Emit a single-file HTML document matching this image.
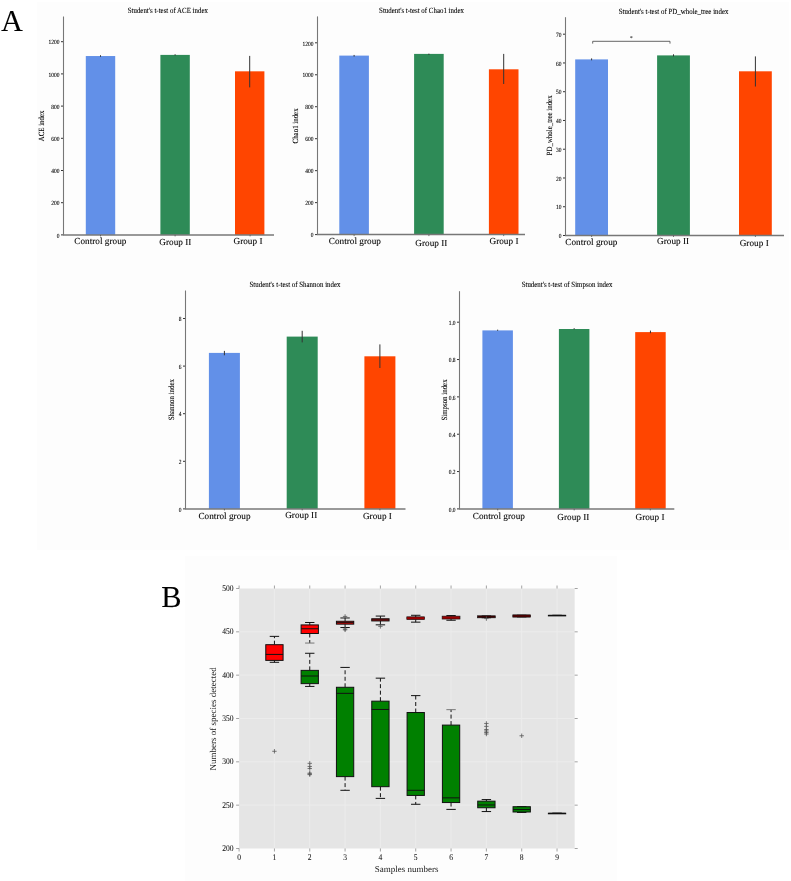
<!DOCTYPE html>
<html><head><meta charset="utf-8"><style>
html,body{margin:0;padding:0;background:#fff;}
svg{display:block;will-change:transform;}
text{stroke-width:0.8px;text-rendering:geometricPrecision;}
text{font-family:"Liberation Serif", serif;}
</style></head><body>
<svg width="791" height="881" viewBox="0 0 791 881">
<rect width="791" height="881" fill="#fff"/>
<rect x="37" y="2" width="752" height="548" fill="#fdfdfd"/>
<text transform="translate(167.80 13.40) scale(0.100 0.1150)" font-size="69.0" text-anchor="middle" fill="#000" stroke="#000">Student's t-test of ACE index</text>
<text transform="translate(44.00 125.90) rotate(-90) scale(0.100 0.1150)" font-size="69.0" text-anchor="middle" fill="#000" stroke="#000">ACE index</text>
<line x1="61.0" y1="234.90" x2="63.5" y2="234.90" stroke="#333" stroke-width="1"/>
<text transform="translate(59.60 237.60) scale(0.100 0.1150)" font-size="55.0" text-anchor="end" fill="#000" stroke="#000">0</text>
<line x1="61.0" y1="202.70" x2="63.5" y2="202.70" stroke="#333" stroke-width="1"/>
<text transform="translate(59.60 205.40) scale(0.100 0.1150)" font-size="55.0" text-anchor="end" fill="#000" stroke="#000">200</text>
<line x1="61.0" y1="170.50" x2="63.5" y2="170.50" stroke="#333" stroke-width="1"/>
<text transform="translate(59.60 173.20) scale(0.100 0.1150)" font-size="55.0" text-anchor="end" fill="#000" stroke="#000">400</text>
<line x1="61.0" y1="138.30" x2="63.5" y2="138.30" stroke="#333" stroke-width="1"/>
<text transform="translate(59.60 141.00) scale(0.100 0.1150)" font-size="55.0" text-anchor="end" fill="#000" stroke="#000">600</text>
<line x1="61.0" y1="106.10" x2="63.5" y2="106.10" stroke="#333" stroke-width="1"/>
<text transform="translate(59.60 108.80) scale(0.100 0.1150)" font-size="55.0" text-anchor="end" fill="#000" stroke="#000">800</text>
<line x1="61.0" y1="73.90" x2="63.5" y2="73.90" stroke="#333" stroke-width="1"/>
<text transform="translate(59.60 76.60) scale(0.100 0.1150)" font-size="55.0" text-anchor="end" fill="#000" stroke="#000">1000</text>
<line x1="61.0" y1="41.70" x2="63.5" y2="41.70" stroke="#333" stroke-width="1"/>
<text transform="translate(59.60 44.40) scale(0.100 0.1150)" font-size="55.0" text-anchor="end" fill="#000" stroke="#000">1200</text>
<rect x="85.8" y="56.03" width="29.4" height="178.87" fill="#6290E8"/>
<line x1="100.50" y1="56.83" x2="100.50" y2="55.22" stroke="#333" stroke-width="1"/>
<rect x="160.4" y="54.90" width="29.4" height="180.00" fill="#2E8B57"/>
<line x1="175.10" y1="55.55" x2="175.10" y2="54.26" stroke="#333" stroke-width="1"/>
<rect x="235.0" y="71.32" width="29.4" height="163.58" fill="#FF4500"/>
<line x1="249.70" y1="87.40" x2="249.70" y2="55.90" stroke="#333" stroke-width="1"/>
<line x1="63.5" y1="16.5" x2="63.5" y2="234.9" stroke="#777" stroke-width="1.1"/>
<line x1="63.0" y1="234.9" x2="274" y2="234.9" stroke="#777" stroke-width="1.5"/>
<line x1="100.5" y1="234.9" x2="100.5" y2="236.4" stroke="#555" stroke-width="0.8"/>
<line x1="175.1" y1="234.9" x2="175.1" y2="236.4" stroke="#555" stroke-width="0.8"/>
<line x1="250.1" y1="234.9" x2="250.1" y2="236.4" stroke="#555" stroke-width="0.8"/>
<text transform="translate(100.30 244.00) scale(0.100 0.1000)" font-size="92.5" text-anchor="middle" fill="#000" stroke="#000">Control group</text>
<text transform="translate(175.30 245.20) scale(0.100 0.1000)" font-size="92.5" text-anchor="middle" fill="#000" stroke="#000">Group II</text>
<text transform="translate(248.00 243.50) scale(0.100 0.1000)" font-size="92.5" text-anchor="middle" fill="#000" stroke="#000">Group I</text>
<text transform="translate(421.50 13.40) scale(0.100 0.1150)" font-size="69.0" text-anchor="middle" fill="#000" stroke="#000">Student's t-test of Chao1 index</text>
<text transform="translate(297.50 125.90) rotate(-90) scale(0.100 0.1150)" font-size="69.0" text-anchor="middle" fill="#000" stroke="#000">Chao1 index</text>
<line x1="315.0" y1="234.60" x2="317.5" y2="234.60" stroke="#333" stroke-width="1"/>
<text transform="translate(313.60 237.30) scale(0.100 0.1150)" font-size="55.0" text-anchor="end" fill="#000" stroke="#000">0</text>
<line x1="315.0" y1="202.63" x2="317.5" y2="202.63" stroke="#333" stroke-width="1"/>
<text transform="translate(313.60 205.33) scale(0.100 0.1150)" font-size="55.0" text-anchor="end" fill="#000" stroke="#000">200</text>
<line x1="315.0" y1="170.67" x2="317.5" y2="170.67" stroke="#333" stroke-width="1"/>
<text transform="translate(313.60 173.37) scale(0.100 0.1150)" font-size="55.0" text-anchor="end" fill="#000" stroke="#000">400</text>
<line x1="315.0" y1="138.70" x2="317.5" y2="138.70" stroke="#333" stroke-width="1"/>
<text transform="translate(313.60 141.40) scale(0.100 0.1150)" font-size="55.0" text-anchor="end" fill="#000" stroke="#000">600</text>
<line x1="315.0" y1="106.73" x2="317.5" y2="106.73" stroke="#333" stroke-width="1"/>
<text transform="translate(313.60 109.43) scale(0.100 0.1150)" font-size="55.0" text-anchor="end" fill="#000" stroke="#000">800</text>
<line x1="315.0" y1="74.77" x2="317.5" y2="74.77" stroke="#333" stroke-width="1"/>
<text transform="translate(313.60 77.47) scale(0.100 0.1150)" font-size="55.0" text-anchor="end" fill="#000" stroke="#000">1000</text>
<line x1="315.0" y1="42.80" x2="317.5" y2="42.80" stroke="#333" stroke-width="1"/>
<text transform="translate(313.60 45.50) scale(0.100 0.1150)" font-size="55.0" text-anchor="end" fill="#000" stroke="#000">1200</text>
<rect x="339.3" y="55.60" width="29.6" height="179.00" fill="#6290E8"/>
<line x1="354.10" y1="56.55" x2="354.10" y2="54.95" stroke="#333" stroke-width="1"/>
<rect x="414.1" y="53.90" width="29.6" height="180.70" fill="#2E8B57"/>
<line x1="428.90" y1="54.95" x2="428.90" y2="53.67" stroke="#333" stroke-width="1"/>
<rect x="488.9" y="69.30" width="29.6" height="165.30" fill="#FF4500"/>
<line x1="503.70" y1="84.00" x2="503.70" y2="53.90" stroke="#333" stroke-width="1"/>
<line x1="317.5" y1="16.4" x2="317.5" y2="234.6" stroke="#777" stroke-width="1.1"/>
<line x1="317.0" y1="234.6" x2="525" y2="234.6" stroke="#777" stroke-width="1.5"/>
<line x1="354.1" y1="234.6" x2="354.1" y2="236.1" stroke="#555" stroke-width="0.8"/>
<line x1="428.9" y1="234.6" x2="428.9" y2="236.1" stroke="#555" stroke-width="0.8"/>
<line x1="503.7" y1="234.6" x2="503.7" y2="236.1" stroke="#555" stroke-width="0.8"/>
<text transform="translate(354.80 244.00) scale(0.100 0.1000)" font-size="92.5" text-anchor="middle" fill="#000" stroke="#000">Control group</text>
<text transform="translate(431.30 245.50) scale(0.100 0.1000)" font-size="92.5" text-anchor="middle" fill="#000" stroke="#000">Group II</text>
<text transform="translate(504.00 243.50) scale(0.100 0.1000)" font-size="92.5" text-anchor="middle" fill="#000" stroke="#000">Group I</text>
<text transform="translate(673.60 14.10) scale(0.100 0.1150)" font-size="69.0" text-anchor="middle" fill="#000" stroke="#000">Student's t-test of PD_whole_tree index</text>
<text transform="translate(552.00 125.40) rotate(-90) scale(0.100 0.1150)" font-size="69.0" text-anchor="middle" fill="#000" stroke="#000">PD_whole_tree index</text>
<line x1="563.0" y1="235.50" x2="565.5" y2="235.50" stroke="#333" stroke-width="1"/>
<text transform="translate(561.60 238.20) scale(0.100 0.1150)" font-size="55.0" text-anchor="end" fill="#000" stroke="#000">0</text>
<line x1="563.0" y1="206.74" x2="565.5" y2="206.74" stroke="#333" stroke-width="1"/>
<text transform="translate(561.60 209.44) scale(0.100 0.1150)" font-size="55.0" text-anchor="end" fill="#000" stroke="#000">10</text>
<line x1="563.0" y1="177.99" x2="565.5" y2="177.99" stroke="#333" stroke-width="1"/>
<text transform="translate(561.60 180.69) scale(0.100 0.1150)" font-size="55.0" text-anchor="end" fill="#000" stroke="#000">20</text>
<line x1="563.0" y1="149.23" x2="565.5" y2="149.23" stroke="#333" stroke-width="1"/>
<text transform="translate(561.60 151.93) scale(0.100 0.1150)" font-size="55.0" text-anchor="end" fill="#000" stroke="#000">30</text>
<line x1="563.0" y1="120.47" x2="565.5" y2="120.47" stroke="#333" stroke-width="1"/>
<text transform="translate(561.60 123.17) scale(0.100 0.1150)" font-size="55.0" text-anchor="end" fill="#000" stroke="#000">40</text>
<line x1="563.0" y1="91.71" x2="565.5" y2="91.71" stroke="#333" stroke-width="1"/>
<text transform="translate(561.60 94.41) scale(0.100 0.1150)" font-size="55.0" text-anchor="end" fill="#000" stroke="#000">50</text>
<line x1="563.0" y1="62.96" x2="565.5" y2="62.96" stroke="#333" stroke-width="1"/>
<text transform="translate(561.60 65.66) scale(0.100 0.1150)" font-size="55.0" text-anchor="end" fill="#000" stroke="#000">60</text>
<line x1="563.0" y1="34.20" x2="565.5" y2="34.20" stroke="#333" stroke-width="1"/>
<text transform="translate(561.60 36.90) scale(0.100 0.1150)" font-size="55.0" text-anchor="end" fill="#000" stroke="#000">70</text>
<rect x="575.2" y="59.40" width="32.8" height="176.10" fill="#6290E8"/>
<line x1="591.60" y1="60.30" x2="591.60" y2="58.40" stroke="#333" stroke-width="1"/>
<rect x="657.1" y="55.40" width="32.8" height="180.10" fill="#2E8B57"/>
<line x1="673.50" y1="56.40" x2="673.50" y2="54.30" stroke="#333" stroke-width="1"/>
<rect x="739.0" y="71.30" width="32.8" height="164.20" fill="#FF4500"/>
<line x1="755.40" y1="86.50" x2="755.40" y2="56.40" stroke="#333" stroke-width="1"/>
<line x1="565.5" y1="17.2" x2="565.5" y2="235.5" stroke="#777" stroke-width="1.1"/>
<line x1="565.0" y1="235.5" x2="784" y2="235.5" stroke="#777" stroke-width="1.5"/>
<line x1="591.6" y1="235.5" x2="591.6" y2="237.0" stroke="#555" stroke-width="0.8"/>
<line x1="673.5" y1="235.5" x2="673.5" y2="237.0" stroke="#555" stroke-width="0.8"/>
<line x1="755.4" y1="235.5" x2="755.4" y2="237.0" stroke="#555" stroke-width="0.8"/>
<text transform="translate(591.40 245.20) scale(0.100 0.1000)" font-size="92.5" text-anchor="middle" fill="#000" stroke="#000">Control group</text>
<text transform="translate(673.10 244.40) scale(0.100 0.1000)" font-size="92.5" text-anchor="middle" fill="#000" stroke="#000">Group II</text>
<text transform="translate(754.20 246.00) scale(0.100 0.1000)" font-size="92.5" text-anchor="middle" fill="#000" stroke="#000">Group I</text>
<path d="M592.7 43.6 V41.3 H670 V43.6" fill="none" stroke="#555" stroke-width="0.9"/>
<text x="631.3" y="40" font-size="6" text-anchor="middle">*</text>
<text transform="translate(295.00 287.40) scale(0.100 0.1150)" font-size="69.0" text-anchor="middle" fill="#000" stroke="#000">Student's t-test of Shannon index</text>
<text transform="translate(174.00 399.70) rotate(-90) scale(0.100 0.1150)" font-size="69.0" text-anchor="middle" fill="#000" stroke="#000">Shannon index</text>
<line x1="183.0" y1="508.90" x2="185.5" y2="508.90" stroke="#333" stroke-width="1"/>
<text transform="translate(181.60 511.60) scale(0.100 0.1150)" font-size="55.0" text-anchor="end" fill="#000" stroke="#000">0</text>
<line x1="183.0" y1="461.30" x2="185.5" y2="461.30" stroke="#333" stroke-width="1"/>
<text transform="translate(181.60 464.00) scale(0.100 0.1150)" font-size="55.0" text-anchor="end" fill="#000" stroke="#000">2</text>
<line x1="183.0" y1="413.70" x2="185.5" y2="413.70" stroke="#333" stroke-width="1"/>
<text transform="translate(181.60 416.40) scale(0.100 0.1150)" font-size="55.0" text-anchor="end" fill="#000" stroke="#000">4</text>
<line x1="183.0" y1="366.10" x2="185.5" y2="366.10" stroke="#333" stroke-width="1"/>
<text transform="translate(181.60 368.80) scale(0.100 0.1150)" font-size="55.0" text-anchor="end" fill="#000" stroke="#000">6</text>
<line x1="183.0" y1="318.50" x2="185.5" y2="318.50" stroke="#333" stroke-width="1"/>
<text transform="translate(181.60 321.20) scale(0.100 0.1150)" font-size="55.0" text-anchor="end" fill="#000" stroke="#000">8</text>
<rect x="208.9" y="352.90" width="31" height="156.00" fill="#6290E8"/>
<line x1="224.40" y1="355.30" x2="224.40" y2="350.90" stroke="#333" stroke-width="1"/>
<rect x="286.7" y="336.60" width="31" height="172.30" fill="#2E8B57"/>
<line x1="302.20" y1="342.40" x2="302.20" y2="330.80" stroke="#333" stroke-width="1"/>
<rect x="364.4" y="356.30" width="31" height="152.60" fill="#FF4500"/>
<line x1="379.90" y1="368.00" x2="379.90" y2="344.40" stroke="#333" stroke-width="1"/>
<line x1="185.5" y1="290.5" x2="185.5" y2="508.9" stroke="#777" stroke-width="1.1"/>
<line x1="185.0" y1="508.9" x2="405.5" y2="508.9" stroke="#777" stroke-width="1.5"/>
<line x1="224.4" y1="508.9" x2="224.4" y2="510.4" stroke="#555" stroke-width="0.8"/>
<line x1="302.2" y1="508.9" x2="302.2" y2="510.4" stroke="#555" stroke-width="0.8"/>
<line x1="379.9" y1="508.9" x2="379.9" y2="510.4" stroke="#555" stroke-width="0.8"/>
<text transform="translate(224.50 518.50) scale(0.100 0.1000)" font-size="92.5" text-anchor="middle" fill="#000" stroke="#000">Control group</text>
<text transform="translate(301.20 518.00) scale(0.100 0.1000)" font-size="92.5" text-anchor="middle" fill="#000" stroke="#000">Group II</text>
<text transform="translate(377.40 519.00) scale(0.100 0.1000)" font-size="92.5" text-anchor="middle" fill="#000" stroke="#000">Group I</text>
<text transform="translate(567.10 287.40) scale(0.100 0.1150)" font-size="69.0" text-anchor="middle" fill="#000" stroke="#000">Student's t-test of Simpson index</text>
<text transform="translate(446.50 400.00) rotate(-90) scale(0.100 0.1150)" font-size="69.0" text-anchor="middle" fill="#000" stroke="#000">Simpson index</text>
<line x1="457.0" y1="508.90" x2="459.5" y2="508.90" stroke="#333" stroke-width="1"/>
<text transform="translate(455.60 511.60) scale(0.100 0.1150)" font-size="55.0" text-anchor="end" fill="#000" stroke="#000">0.0</text>
<line x1="457.0" y1="471.56" x2="459.5" y2="471.56" stroke="#333" stroke-width="1"/>
<text transform="translate(455.60 474.26) scale(0.100 0.1150)" font-size="55.0" text-anchor="end" fill="#000" stroke="#000">0.2</text>
<line x1="457.0" y1="434.22" x2="459.5" y2="434.22" stroke="#333" stroke-width="1"/>
<text transform="translate(455.60 436.92) scale(0.100 0.1150)" font-size="55.0" text-anchor="end" fill="#000" stroke="#000">0.4</text>
<line x1="457.0" y1="396.88" x2="459.5" y2="396.88" stroke="#333" stroke-width="1"/>
<text transform="translate(455.60 399.58) scale(0.100 0.1150)" font-size="55.0" text-anchor="end" fill="#000" stroke="#000">0.6</text>
<line x1="457.0" y1="359.54" x2="459.5" y2="359.54" stroke="#333" stroke-width="1"/>
<text transform="translate(455.60 362.24) scale(0.100 0.1150)" font-size="55.0" text-anchor="end" fill="#000" stroke="#000">0.8</text>
<line x1="457.0" y1="322.20" x2="459.5" y2="322.20" stroke="#333" stroke-width="1"/>
<text transform="translate(455.60 324.90) scale(0.100 0.1150)" font-size="55.0" text-anchor="end" fill="#000" stroke="#000">1.0</text>
<rect x="482.4" y="330.40" width="30.5" height="178.50" fill="#6290E8"/>
<line x1="497.65" y1="330.79" x2="497.65" y2="329.67" stroke="#333" stroke-width="1"/>
<rect x="558.9" y="329.00" width="30.5" height="179.90" fill="#2E8B57"/>
<line x1="574.15" y1="329.29" x2="574.15" y2="328.17" stroke="#333" stroke-width="1"/>
<rect x="635.2" y="332.10" width="30.5" height="176.80" fill="#FF4500"/>
<line x1="650.45" y1="333.22" x2="650.45" y2="330.60" stroke="#333" stroke-width="1"/>
<line x1="459.5" y1="291.2" x2="459.5" y2="508.9" stroke="#777" stroke-width="1.1"/>
<line x1="459.0" y1="508.9" x2="674.3" y2="508.9" stroke="#777" stroke-width="1.5"/>
<line x1="497.7" y1="508.9" x2="497.7" y2="510.4" stroke="#555" stroke-width="0.8"/>
<line x1="574.2" y1="508.9" x2="574.2" y2="510.4" stroke="#555" stroke-width="0.8"/>
<line x1="650.3" y1="508.9" x2="650.3" y2="510.4" stroke="#555" stroke-width="0.8"/>
<text transform="translate(498.80 518.50) scale(0.100 0.1000)" font-size="92.5" text-anchor="middle" fill="#000" stroke="#000">Control group</text>
<text transform="translate(573.30 519.50) scale(0.100 0.1000)" font-size="92.5" text-anchor="middle" fill="#000" stroke="#000">Group II</text>
<text transform="translate(650.00 519.50) scale(0.100 0.1000)" font-size="92.5" text-anchor="middle" fill="#000" stroke="#000">Group I</text>
<text transform="translate(1.00 30.90) scale(0.100 0.1000)" font-size="305.0" text-anchor="start" fill="#000" stroke="#000">A</text>
<text transform="translate(161.30 606.80) scale(0.100 0.1000)" font-size="305.0" text-anchor="start" fill="#000" stroke="#000">B</text>
<rect x="185" y="556" width="432" height="325" fill="#fdfdfd"/>
<rect x="239.1" y="588.5" width="335.60" height="260.00" fill="#e5e5e5"/>
<line x1="239.1" y1="805.17" x2="574.7" y2="805.17" stroke="#ececec" stroke-width="1"/>
<line x1="239.1" y1="761.83" x2="574.7" y2="761.83" stroke="#ececec" stroke-width="1"/>
<line x1="239.1" y1="718.50" x2="574.7" y2="718.50" stroke="#ececec" stroke-width="1"/>
<line x1="239.1" y1="675.17" x2="574.7" y2="675.17" stroke="#ececec" stroke-width="1"/>
<line x1="239.1" y1="631.83" x2="574.7" y2="631.83" stroke="#ececec" stroke-width="1"/>
<line x1="274.43" y1="588.5" x2="274.43" y2="848.5" stroke="#ececec" stroke-width="1"/>
<line x1="309.75" y1="588.5" x2="309.75" y2="848.5" stroke="#ececec" stroke-width="1"/>
<line x1="345.08" y1="588.5" x2="345.08" y2="848.5" stroke="#ececec" stroke-width="1"/>
<line x1="380.41" y1="588.5" x2="380.41" y2="848.5" stroke="#ececec" stroke-width="1"/>
<line x1="415.73" y1="588.5" x2="415.73" y2="848.5" stroke="#ececec" stroke-width="1"/>
<line x1="451.06" y1="588.5" x2="451.06" y2="848.5" stroke="#ececec" stroke-width="1"/>
<line x1="486.38" y1="588.5" x2="486.38" y2="848.5" stroke="#ececec" stroke-width="1"/>
<line x1="521.71" y1="588.5" x2="521.71" y2="848.5" stroke="#ececec" stroke-width="1"/>
<line x1="557.04" y1="588.5" x2="557.04" y2="848.5" stroke="#ececec" stroke-width="1"/>
<line x1="236.1" y1="848.50" x2="239.1" y2="848.50" stroke="#666" stroke-width="0.6"/>
<line x1="574.7" y1="848.50" x2="577.7" y2="848.50" stroke="#666" stroke-width="0.6"/>
<text transform="translate(233.60 851.10) scale(0.100 0.1150)" font-size="76.0" text-anchor="end" fill="#222" stroke="#222">200</text>
<line x1="236.1" y1="805.17" x2="239.1" y2="805.17" stroke="#666" stroke-width="0.6"/>
<line x1="574.7" y1="805.17" x2="577.7" y2="805.17" stroke="#666" stroke-width="0.6"/>
<text transform="translate(233.60 807.77) scale(0.100 0.1150)" font-size="76.0" text-anchor="end" fill="#222" stroke="#222">250</text>
<line x1="236.1" y1="761.83" x2="239.1" y2="761.83" stroke="#666" stroke-width="0.6"/>
<line x1="574.7" y1="761.83" x2="577.7" y2="761.83" stroke="#666" stroke-width="0.6"/>
<text transform="translate(233.60 764.43) scale(0.100 0.1150)" font-size="76.0" text-anchor="end" fill="#222" stroke="#222">300</text>
<line x1="236.1" y1="718.50" x2="239.1" y2="718.50" stroke="#666" stroke-width="0.6"/>
<line x1="574.7" y1="718.50" x2="577.7" y2="718.50" stroke="#666" stroke-width="0.6"/>
<text transform="translate(233.60 721.10) scale(0.100 0.1150)" font-size="76.0" text-anchor="end" fill="#222" stroke="#222">350</text>
<line x1="236.1" y1="675.17" x2="239.1" y2="675.17" stroke="#666" stroke-width="0.6"/>
<line x1="574.7" y1="675.17" x2="577.7" y2="675.17" stroke="#666" stroke-width="0.6"/>
<text transform="translate(233.60 677.77) scale(0.100 0.1150)" font-size="76.0" text-anchor="end" fill="#222" stroke="#222">400</text>
<line x1="236.1" y1="631.83" x2="239.1" y2="631.83" stroke="#666" stroke-width="0.6"/>
<line x1="574.7" y1="631.83" x2="577.7" y2="631.83" stroke="#666" stroke-width="0.6"/>
<text transform="translate(233.60 634.43) scale(0.100 0.1150)" font-size="76.0" text-anchor="end" fill="#222" stroke="#222">450</text>
<line x1="236.1" y1="588.50" x2="239.1" y2="588.50" stroke="#666" stroke-width="0.6"/>
<line x1="574.7" y1="588.50" x2="577.7" y2="588.50" stroke="#666" stroke-width="0.6"/>
<text transform="translate(233.60 591.10) scale(0.100 0.1150)" font-size="76.0" text-anchor="end" fill="#222" stroke="#222">500</text>
<line x1="239.10" y1="585.5" x2="239.10" y2="588.5" stroke="#666" stroke-width="0.6"/>
<line x1="239.10" y1="848.5" x2="239.10" y2="851.5" stroke="#666" stroke-width="0.6"/>
<text transform="translate(239.10 859.90) scale(0.100 0.1150)" font-size="76.0" text-anchor="middle" fill="#222" stroke="#222">0</text>
<line x1="274.43" y1="585.5" x2="274.43" y2="588.5" stroke="#666" stroke-width="0.6"/>
<line x1="274.43" y1="848.5" x2="274.43" y2="851.5" stroke="#666" stroke-width="0.6"/>
<text transform="translate(274.43 859.90) scale(0.100 0.1150)" font-size="76.0" text-anchor="middle" fill="#222" stroke="#222">1</text>
<line x1="309.75" y1="585.5" x2="309.75" y2="588.5" stroke="#666" stroke-width="0.6"/>
<line x1="309.75" y1="848.5" x2="309.75" y2="851.5" stroke="#666" stroke-width="0.6"/>
<text transform="translate(309.75 859.90) scale(0.100 0.1150)" font-size="76.0" text-anchor="middle" fill="#222" stroke="#222">2</text>
<line x1="345.08" y1="585.5" x2="345.08" y2="588.5" stroke="#666" stroke-width="0.6"/>
<line x1="345.08" y1="848.5" x2="345.08" y2="851.5" stroke="#666" stroke-width="0.6"/>
<text transform="translate(345.08 859.90) scale(0.100 0.1150)" font-size="76.0" text-anchor="middle" fill="#222" stroke="#222">3</text>
<line x1="380.41" y1="585.5" x2="380.41" y2="588.5" stroke="#666" stroke-width="0.6"/>
<line x1="380.41" y1="848.5" x2="380.41" y2="851.5" stroke="#666" stroke-width="0.6"/>
<text transform="translate(380.41 859.90) scale(0.100 0.1150)" font-size="76.0" text-anchor="middle" fill="#222" stroke="#222">4</text>
<line x1="415.73" y1="585.5" x2="415.73" y2="588.5" stroke="#666" stroke-width="0.6"/>
<line x1="415.73" y1="848.5" x2="415.73" y2="851.5" stroke="#666" stroke-width="0.6"/>
<text transform="translate(415.73 859.90) scale(0.100 0.1150)" font-size="76.0" text-anchor="middle" fill="#222" stroke="#222">5</text>
<line x1="451.06" y1="585.5" x2="451.06" y2="588.5" stroke="#666" stroke-width="0.6"/>
<line x1="451.06" y1="848.5" x2="451.06" y2="851.5" stroke="#666" stroke-width="0.6"/>
<text transform="translate(451.06 859.90) scale(0.100 0.1150)" font-size="76.0" text-anchor="middle" fill="#222" stroke="#222">6</text>
<line x1="486.38" y1="585.5" x2="486.38" y2="588.5" stroke="#666" stroke-width="0.6"/>
<line x1="486.38" y1="848.5" x2="486.38" y2="851.5" stroke="#666" stroke-width="0.6"/>
<text transform="translate(486.38 859.90) scale(0.100 0.1150)" font-size="76.0" text-anchor="middle" fill="#222" stroke="#222">7</text>
<line x1="521.71" y1="585.5" x2="521.71" y2="588.5" stroke="#666" stroke-width="0.6"/>
<line x1="521.71" y1="848.5" x2="521.71" y2="851.5" stroke="#666" stroke-width="0.6"/>
<text transform="translate(521.71 859.90) scale(0.100 0.1150)" font-size="76.0" text-anchor="middle" fill="#222" stroke="#222">8</text>
<line x1="557.04" y1="585.5" x2="557.04" y2="588.5" stroke="#666" stroke-width="0.6"/>
<line x1="557.04" y1="848.5" x2="557.04" y2="851.5" stroke="#666" stroke-width="0.6"/>
<text transform="translate(557.04 859.90) scale(0.100 0.1150)" font-size="76.0" text-anchor="middle" fill="#222" stroke="#222">9</text>
<text transform="translate(406.70 871.90) scale(0.100 0.1000)" font-size="90.0" text-anchor="middle" fill="#222" stroke="#222" style="stroke-width:0">Samples numbers</text>
<text transform="translate(216.30 718.90) rotate(-90) scale(0.100 0.1000)" font-size="90.0" text-anchor="middle" fill="#222" stroke="#222" style="stroke-width:0">Numbers of species detected</text>
<line x1="274.43" y1="644.69" x2="274.43" y2="636.37" stroke="#111" stroke-width="1" stroke-dasharray="4 2.5"/>
<line x1="274.43" y1="660.39" x2="274.43" y2="662.30" stroke="#111" stroke-width="1" stroke-dasharray="4 2.5"/>
<line x1="269.73" y1="636.37" x2="279.13" y2="636.37" stroke="#111" stroke-width="1"/>
<line x1="269.73" y1="662.30" x2="279.13" y2="662.30" stroke="#111" stroke-width="1"/>
<rect x="265.78" y="644.69" width="17.3" height="15.70" fill="#ff0000" stroke="#111" stroke-width="1"/>
<line x1="265.78" y1="654.41" x2="283.08" y2="654.41" stroke="#111" stroke-width="1"/>
<path d="M272.23 751.29H276.63M274.43 749.09V753.49" stroke="#555" stroke-width="0.8" fill="none"/>
<line x1="309.75" y1="624.92" x2="309.75" y2="622.49" stroke="#111" stroke-width="1" stroke-dasharray="4 2.5"/>
<line x1="309.75" y1="633.51" x2="309.75" y2="643.05" stroke="#111" stroke-width="1" stroke-dasharray="4 2.5"/>
<line x1="305.05" y1="622.49" x2="314.45" y2="622.49" stroke="#111" stroke-width="1"/>
<line x1="305.05" y1="643.05" x2="314.45" y2="643.05" stroke="#777" stroke-width="1"/>
<rect x="301.10" y="624.92" width="17.3" height="8.59" fill="#ff0000" stroke="#111" stroke-width="1"/>
<line x1="301.10" y1="628.74" x2="318.40" y2="628.74" stroke="#111" stroke-width="1"/>
<line x1="345.08" y1="621.28" x2="345.08" y2="617.98" stroke="#111" stroke-width="1" stroke-dasharray="4 2.5"/>
<line x1="345.08" y1="624.14" x2="345.08" y2="627.52" stroke="#111" stroke-width="1" stroke-dasharray="4 2.5"/>
<line x1="340.38" y1="617.98" x2="349.78" y2="617.98" stroke="#111" stroke-width="1"/>
<line x1="340.38" y1="627.52" x2="349.78" y2="627.52" stroke="#111" stroke-width="1"/>
<rect x="336.43" y="621.28" width="17.3" height="2.86" fill="#ff0000" stroke="#111" stroke-width="1"/>
<line x1="336.43" y1="622.67" x2="353.73" y2="622.67" stroke="#111" stroke-width="1"/>
<path d="M342.88 616.42H347.28M345.08 614.22V618.62" stroke="#555" stroke-width="0.8" fill="none"/>
<path d="M342.88 629.00H347.28M345.08 626.80V631.20" stroke="#555" stroke-width="0.8" fill="none"/>
<path d="M342.88 629.86H347.28M345.08 627.66V632.06" stroke="#555" stroke-width="0.8" fill="none"/>
<line x1="380.41" y1="618.76" x2="380.41" y2="616.07" stroke="#111" stroke-width="1" stroke-dasharray="4 2.5"/>
<line x1="380.41" y1="620.93" x2="380.41" y2="624.83" stroke="#111" stroke-width="1" stroke-dasharray="4 2.5"/>
<line x1="375.71" y1="616.07" x2="385.11" y2="616.07" stroke="#111" stroke-width="1"/>
<line x1="375.71" y1="624.83" x2="385.11" y2="624.83" stroke="#111" stroke-width="1"/>
<rect x="371.76" y="618.76" width="17.3" height="2.17" fill="#ff0000" stroke="#111" stroke-width="1"/>
<line x1="371.76" y1="619.89" x2="389.06" y2="619.89" stroke="#111" stroke-width="1"/>
<path d="M378.21 626.39H382.61M380.41 624.19V628.59" stroke="#555" stroke-width="0.8" fill="none"/>
<line x1="415.73" y1="617.11" x2="415.73" y2="615.29" stroke="#111" stroke-width="1" stroke-dasharray="4 2.5"/>
<line x1="415.73" y1="619.37" x2="415.73" y2="622.15" stroke="#111" stroke-width="1" stroke-dasharray="4 2.5"/>
<line x1="411.03" y1="615.29" x2="420.43" y2="615.29" stroke="#111" stroke-width="1"/>
<line x1="411.03" y1="622.15" x2="420.43" y2="622.15" stroke="#111" stroke-width="1"/>
<rect x="406.78" y="616.81" width="17.90" height="2.85" fill="#990000" stroke="#111" stroke-width="0.6"/>
<line x1="451.06" y1="616.42" x2="451.06" y2="615.55" stroke="#111" stroke-width="1" stroke-dasharray="4 2.5"/>
<line x1="451.06" y1="618.76" x2="451.06" y2="620.24" stroke="#111" stroke-width="1" stroke-dasharray="4 2.5"/>
<line x1="446.36" y1="615.55" x2="455.76" y2="615.55" stroke="#111" stroke-width="1"/>
<line x1="446.36" y1="620.24" x2="455.76" y2="620.24" stroke="#111" stroke-width="1"/>
<rect x="442.11" y="616.12" width="17.90" height="2.94" fill="#990000" stroke="#111" stroke-width="0.6"/>
<line x1="486.38" y1="616.07" x2="486.38" y2="615.99" stroke="#111" stroke-width="1" stroke-dasharray="4 2.5"/>
<line x1="486.38" y1="617.55" x2="486.38" y2="617.72" stroke="#111" stroke-width="1" stroke-dasharray="4 2.5"/>
<line x1="481.68" y1="615.99" x2="491.08" y2="615.99" stroke="#111" stroke-width="1"/>
<line x1="481.68" y1="617.72" x2="491.08" y2="617.72" stroke="#111" stroke-width="1"/>
<rect x="477.43" y="615.77" width="17.90" height="2.07" fill="#3a0000" stroke="#111" stroke-width="0.6"/>
<path d="M484.18 618.59H488.58M486.38 616.39V620.79" stroke="#555" stroke-width="0.8" fill="none"/>
<line x1="517.01" y1="615.29" x2="526.41" y2="615.29" stroke="#111" stroke-width="1"/>
<line x1="517.01" y1="616.85" x2="526.41" y2="616.85" stroke="#111" stroke-width="1"/>
<rect x="512.76" y="614.82" width="17.90" height="2.33" fill="#500000" stroke="#111" stroke-width="0.6"/>
<line x1="552.34" y1="615.38" x2="561.74" y2="615.38" stroke="#111" stroke-width="1"/>
<line x1="552.34" y1="615.38" x2="561.74" y2="615.38" stroke="#111" stroke-width="1"/>
<rect x="548.39" y="615.38" width="17.3" height="0.50" fill="#ff0000" stroke="#111" stroke-width="1"/>
<line x1="548.39" y1="615.38" x2="565.69" y2="615.38" stroke="#111" stroke-width="1"/>
<line x1="309.75" y1="670.37" x2="309.75" y2="653.28" stroke="#111" stroke-width="1" stroke-dasharray="4 2.5"/>
<line x1="309.75" y1="683.64" x2="309.75" y2="686.41" stroke="#111" stroke-width="1" stroke-dasharray="4 2.5"/>
<line x1="305.05" y1="653.28" x2="314.45" y2="653.28" stroke="#111" stroke-width="1"/>
<line x1="305.05" y1="686.41" x2="314.45" y2="686.41" stroke="#111" stroke-width="1"/>
<rect x="301.10" y="670.37" width="17.3" height="13.27" fill="#008000" stroke="#111" stroke-width="1"/>
<line x1="301.10" y1="676.00" x2="318.40" y2="676.00" stroke="#111" stroke-width="1"/>
<path d="M307.55 763.34H311.95M309.75 761.14V765.54" stroke="#555" stroke-width="0.8" fill="none"/>
<path d="M307.55 766.46H311.95M309.75 764.26V768.66" stroke="#555" stroke-width="0.8" fill="none"/>
<path d="M307.55 768.55H311.95M309.75 766.35V770.75" stroke="#555" stroke-width="0.8" fill="none"/>
<path d="M307.55 773.14H311.95M309.75 770.94V775.34" stroke="#555" stroke-width="0.8" fill="none"/>
<path d="M307.55 773.92H311.95M309.75 771.72V776.12" stroke="#555" stroke-width="0.8" fill="none"/>
<path d="M307.55 774.62H311.95M309.75 772.42V776.82" stroke="#555" stroke-width="0.8" fill="none"/>
<line x1="345.08" y1="687.28" x2="345.08" y2="667.42" stroke="#111" stroke-width="1" stroke-dasharray="4 2.5"/>
<line x1="345.08" y1="776.61" x2="345.08" y2="790.31" stroke="#111" stroke-width="1" stroke-dasharray="4 2.5"/>
<line x1="340.38" y1="667.42" x2="349.78" y2="667.42" stroke="#111" stroke-width="1"/>
<line x1="340.38" y1="790.31" x2="349.78" y2="790.31" stroke="#111" stroke-width="1"/>
<rect x="336.43" y="687.28" width="17.3" height="89.33" fill="#008000" stroke="#111" stroke-width="1"/>
<line x1="336.43" y1="693.35" x2="353.73" y2="693.35" stroke="#111" stroke-width="1"/>
<line x1="380.41" y1="701.16" x2="380.41" y2="678.17" stroke="#111" stroke-width="1" stroke-dasharray="4 2.5"/>
<line x1="380.41" y1="786.67" x2="380.41" y2="798.38" stroke="#111" stroke-width="1" stroke-dasharray="4 2.5"/>
<line x1="375.71" y1="678.17" x2="385.11" y2="678.17" stroke="#111" stroke-width="1"/>
<line x1="375.71" y1="798.38" x2="385.11" y2="798.38" stroke="#111" stroke-width="1"/>
<rect x="371.76" y="701.16" width="17.3" height="85.52" fill="#008000" stroke="#111" stroke-width="1"/>
<line x1="371.76" y1="709.48" x2="389.06" y2="709.48" stroke="#111" stroke-width="1"/>
<line x1="415.73" y1="712.52" x2="415.73" y2="695.61" stroke="#111" stroke-width="1" stroke-dasharray="4 2.5"/>
<line x1="415.73" y1="795.43" x2="415.73" y2="804.28" stroke="#111" stroke-width="1" stroke-dasharray="4 2.5"/>
<line x1="411.03" y1="695.61" x2="420.43" y2="695.61" stroke="#111" stroke-width="1"/>
<line x1="411.03" y1="804.28" x2="420.43" y2="804.28" stroke="#111" stroke-width="1"/>
<rect x="407.08" y="712.52" width="17.3" height="82.91" fill="#008000" stroke="#111" stroke-width="1"/>
<line x1="407.08" y1="790.31" x2="424.38" y2="790.31" stroke="#111" stroke-width="1"/>
<line x1="451.06" y1="725.09" x2="451.06" y2="709.66" stroke="#111" stroke-width="1" stroke-dasharray="4 2.5"/>
<line x1="451.06" y1="802.54" x2="451.06" y2="809.40" stroke="#111" stroke-width="1" stroke-dasharray="4 2.5"/>
<line x1="446.36" y1="709.66" x2="455.76" y2="709.66" stroke="#777" stroke-width="1"/>
<line x1="446.36" y1="809.40" x2="455.76" y2="809.40" stroke="#111" stroke-width="1"/>
<rect x="442.41" y="725.09" width="17.3" height="77.45" fill="#008000" stroke="#111" stroke-width="1"/>
<line x1="442.41" y1="797.86" x2="459.71" y2="797.86" stroke="#111" stroke-width="1"/>
<line x1="486.38" y1="801.16" x2="486.38" y2="799.59" stroke="#111" stroke-width="1" stroke-dasharray="4 2.5"/>
<line x1="486.38" y1="807.75" x2="486.38" y2="811.56" stroke="#111" stroke-width="1" stroke-dasharray="4 2.5"/>
<line x1="481.68" y1="799.59" x2="491.08" y2="799.59" stroke="#111" stroke-width="1"/>
<line x1="481.68" y1="811.56" x2="491.08" y2="811.56" stroke="#111" stroke-width="1"/>
<rect x="477.73" y="801.16" width="17.3" height="6.59" fill="#008000" stroke="#111" stroke-width="1"/>
<line x1="477.73" y1="804.97" x2="495.03" y2="804.97" stroke="#111" stroke-width="1"/>
<path d="M484.18 723.45H488.58M486.38 721.25V725.65" stroke="#555" stroke-width="0.8" fill="none"/>
<path d="M484.18 726.39H488.58M486.38 724.19V728.59" stroke="#555" stroke-width="0.8" fill="none"/>
<path d="M484.18 729.52H488.58M486.38 727.32V731.72" stroke="#555" stroke-width="0.8" fill="none"/>
<path d="M484.18 730.99H488.58M486.38 728.79V733.19" stroke="#555" stroke-width="0.8" fill="none"/>
<path d="M484.18 732.47H488.58M486.38 730.27V734.67" stroke="#555" stroke-width="0.8" fill="none"/>
<path d="M484.18 734.03H488.58M486.38 731.83V736.23" stroke="#555" stroke-width="0.8" fill="none"/>
<line x1="521.71" y1="812.00" x2="521.71" y2="812.43" stroke="#111" stroke-width="1" stroke-dasharray="4 2.5"/>
<line x1="517.01" y1="806.71" x2="526.41" y2="806.71" stroke="#111" stroke-width="1"/>
<line x1="517.01" y1="812.43" x2="526.41" y2="812.43" stroke="#111" stroke-width="1"/>
<rect x="513.06" y="806.71" width="17.3" height="5.29" fill="#008000" stroke="#111" stroke-width="1"/>
<line x1="513.06" y1="809.57" x2="530.36" y2="809.57" stroke="#111" stroke-width="1"/>
<path d="M519.51 735.76H523.91M521.71 733.56V737.96" stroke="#555" stroke-width="0.8" fill="none"/>
<line x1="552.34" y1="813.30" x2="561.74" y2="813.30" stroke="#111" stroke-width="1"/>
<line x1="552.34" y1="813.30" x2="561.74" y2="813.30" stroke="#111" stroke-width="1"/>
<rect x="548.39" y="813.30" width="17.3" height="0.50" fill="#008000" stroke="#111" stroke-width="1"/>
<line x1="548.39" y1="813.30" x2="565.69" y2="813.30" stroke="#111" stroke-width="1"/>
</svg>
</body></html>
